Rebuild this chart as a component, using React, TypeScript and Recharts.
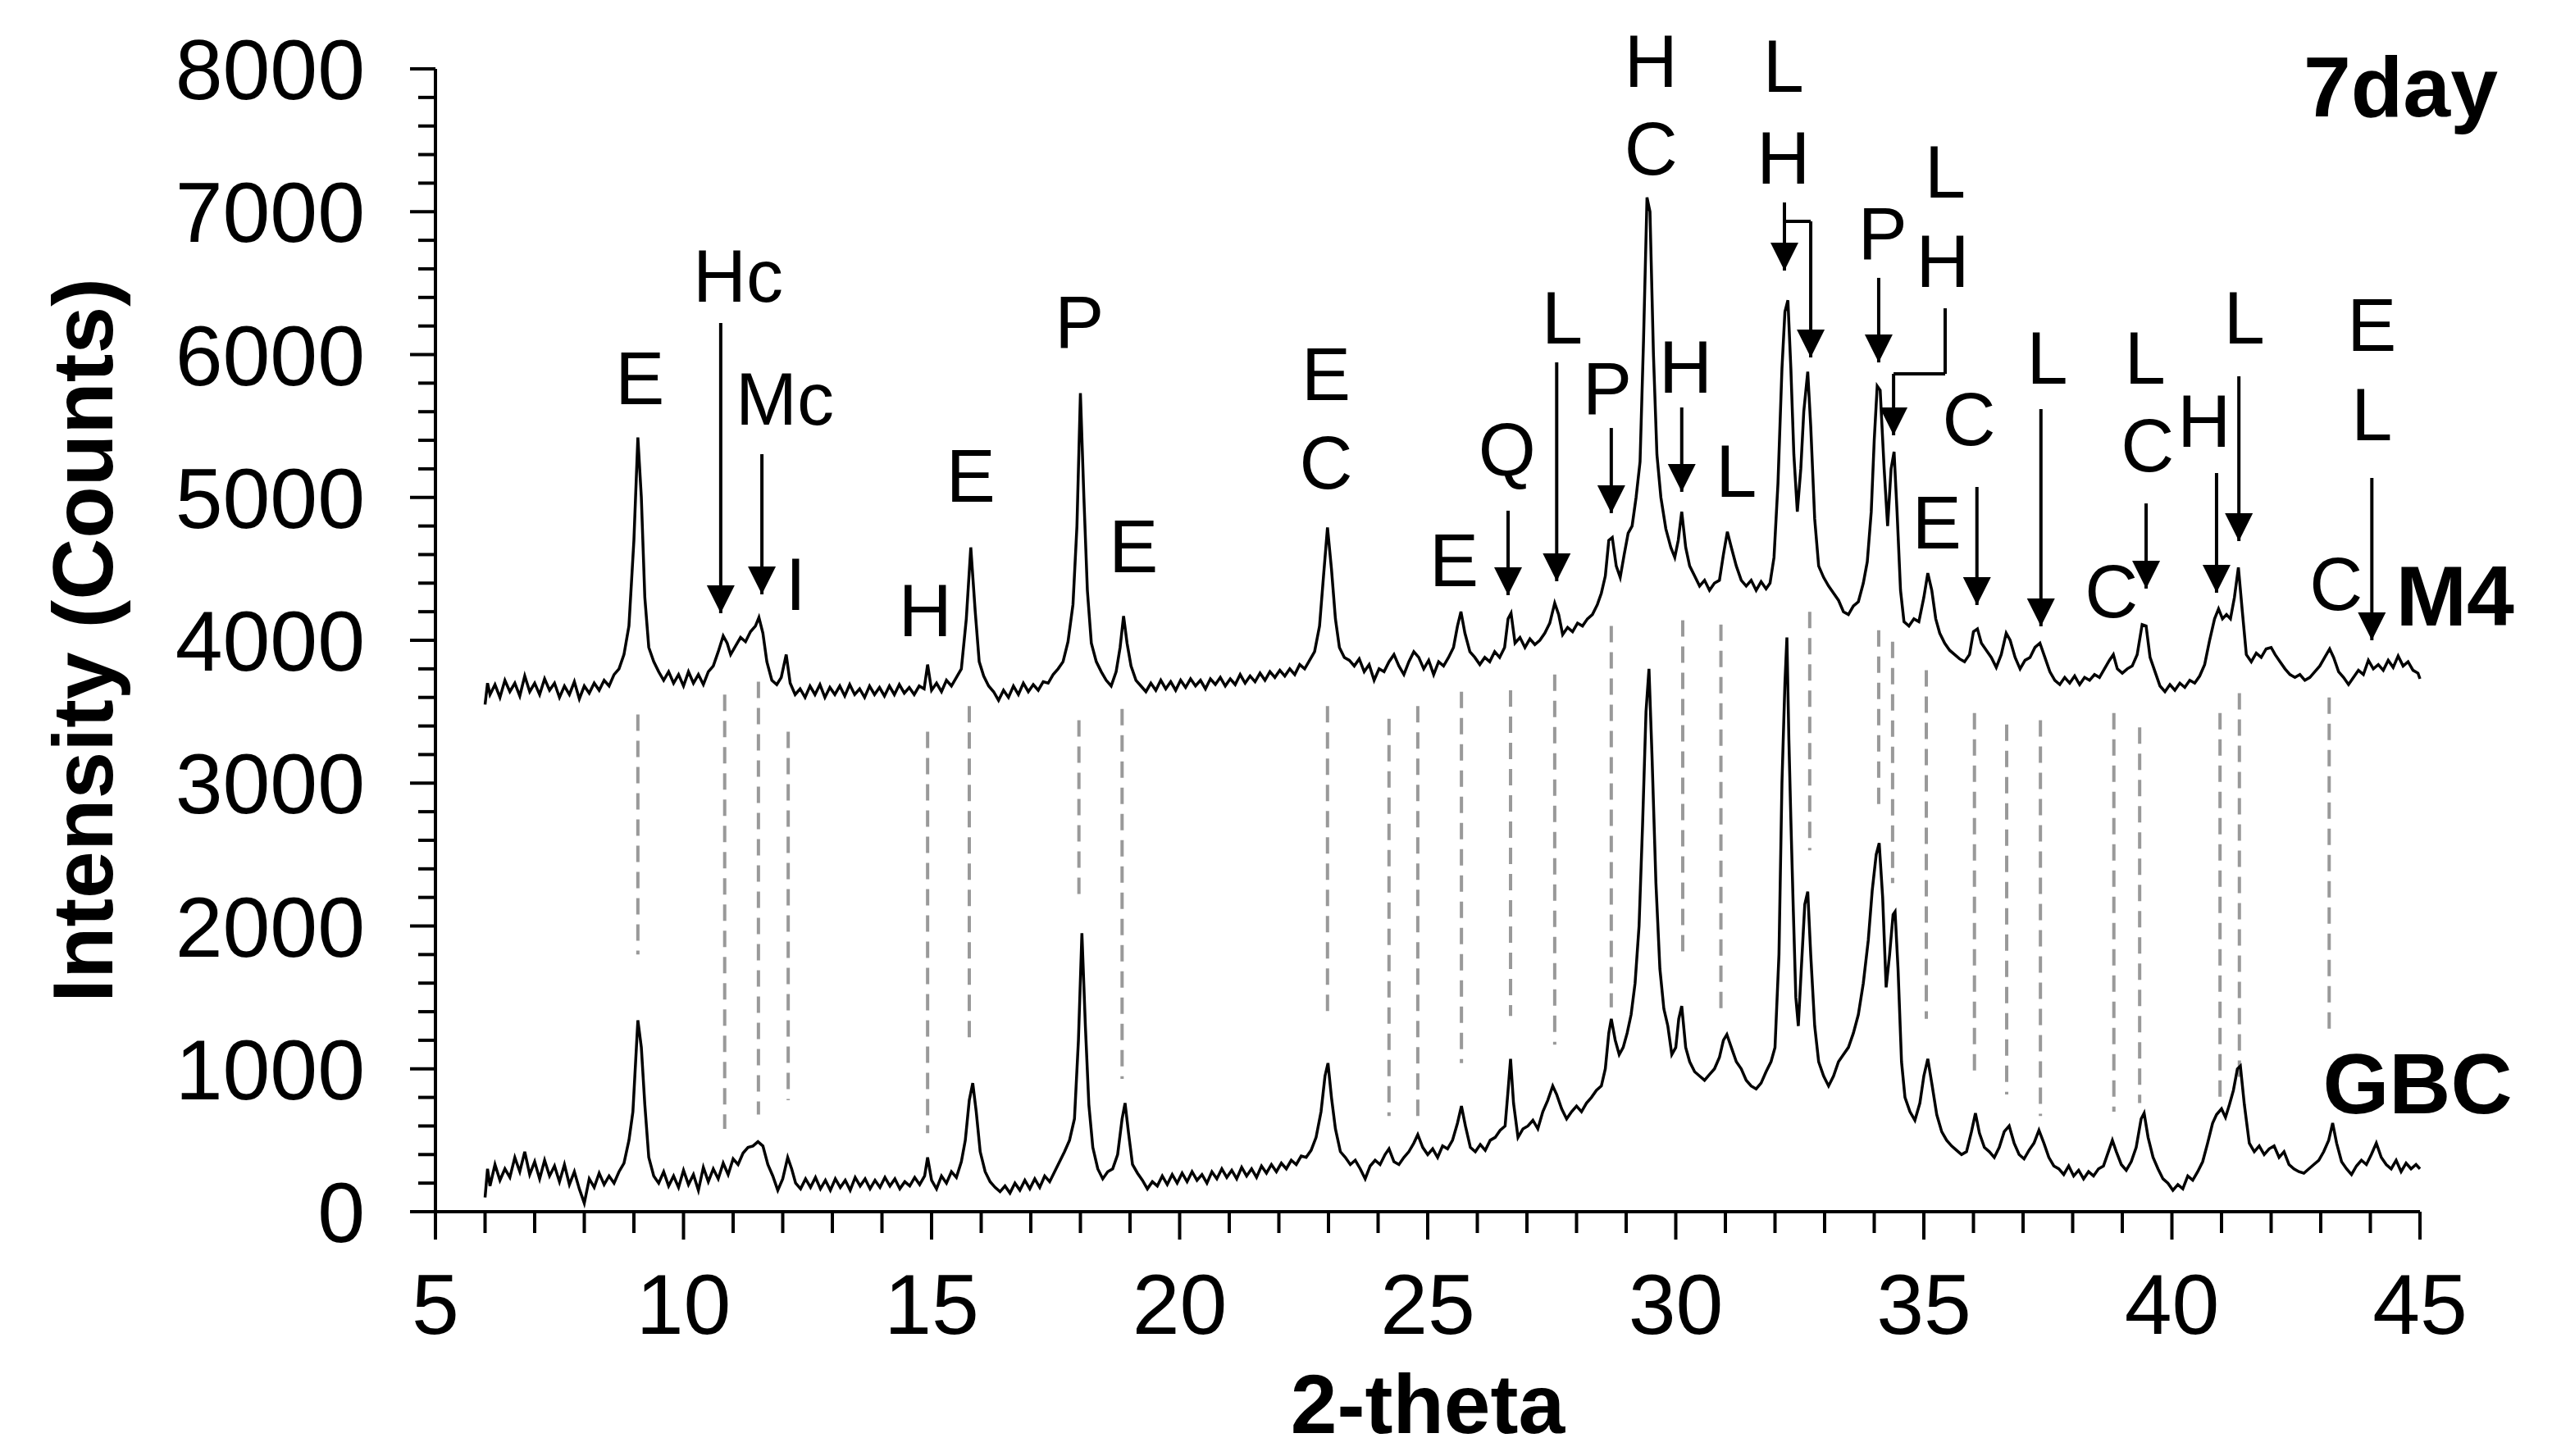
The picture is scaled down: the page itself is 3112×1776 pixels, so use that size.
import React from "react";
import { LineChart, Line, XAxis, YAxis, ReferenceLine, ReferenceDot } from "recharts";

const W = 3112;
const H = 1776;
const FONT = "'Liberation Sans', Arial, sans-serif";

// [2-theta, counts], M4 trace (upper)
const m4Points: [number, number][] = [
  [6.0, 3550], [6.05, 3700], [6.1, 3620], [6.2, 3690], [6.3, 3600], [6.4, 3720], [6.5, 3640], [6.6, 3700],
  [6.7, 3610], [6.8, 3750], [6.9, 3640], [7.0, 3700], [7.1, 3620], [7.2, 3730], [7.3, 3650], [7.4, 3700],
  [7.5, 3600], [7.6, 3680], [7.7, 3620], [7.8, 3710], [7.9, 3590], [8.0, 3680], [8.1, 3630], [8.2, 3700],
  [8.3, 3650], [8.4, 3720], [8.5, 3680], [8.6, 3760], [8.7, 3800], [8.8, 3900], [8.9, 4100], [9.0, 4700],
  [9.08, 5420], [9.15, 5000], [9.22, 4300], [9.3, 3950], [9.4, 3850], [9.5, 3780], [9.6, 3720], [9.7, 3780],
  [9.8, 3700], [9.9, 3760], [10.0, 3680], [10.1, 3780], [10.2, 3700], [10.3, 3760], [10.4, 3690], [10.5, 3780],
  [10.6, 3820], [10.7, 3920], [10.8, 4030], [10.88, 3980], [10.95, 3900], [11.05, 3960], [11.15, 4020],
  [11.25, 3990], [11.35, 4060], [11.45, 4100], [11.52, 4160], [11.6, 4050], [11.68, 3850], [11.78, 3720],
  [11.88, 3690], [11.97, 3740], [12.07, 3900], [12.15, 3700], [12.25, 3620], [12.35, 3660], [12.45, 3600],
  [12.55, 3680], [12.65, 3620], [12.75, 3690], [12.85, 3600], [12.95, 3670], [13.05, 3620], [13.15, 3680],
  [13.25, 3610], [13.35, 3690], [13.45, 3620], [13.55, 3660], [13.65, 3600], [13.75, 3680], [13.85, 3620],
  [13.95, 3670], [14.05, 3610], [14.15, 3680], [14.25, 3620], [14.35, 3690], [14.45, 3630], [14.55, 3670],
  [14.65, 3620], [14.75, 3680], [14.85, 3660], [14.92, 3830], [15.0, 3650], [15.1, 3700], [15.2, 3640],
  [15.3, 3720], [15.4, 3680], [15.5, 3740], [15.6, 3800], [15.7, 4150], [15.79, 4650], [15.88, 4200],
  [15.96, 3850], [16.05, 3750], [16.15, 3680], [16.25, 3640], [16.35, 3580], [16.45, 3650], [16.55, 3600],
  [16.65, 3680], [16.75, 3620], [16.85, 3700], [16.95, 3640], [17.05, 3690], [17.15, 3650], [17.25, 3710],
  [17.35, 3700], [17.45, 3760], [17.55, 3800], [17.65, 3850], [17.75, 3990], [17.85, 4250], [17.93, 4800],
  [18.0, 5730], [18.07, 5000], [18.14, 4350], [18.22, 3980], [18.32, 3850], [18.42, 3780], [18.52, 3720],
  [18.62, 3680], [18.72, 3780], [18.8, 3950], [18.87, 4170], [18.94, 3980], [19.02, 3820], [19.12, 3720],
  [19.22, 3680], [19.32, 3640], [19.42, 3700], [19.52, 3650], [19.62, 3720], [19.72, 3660], [19.82, 3710],
  [19.92, 3650], [20.02, 3720], [20.12, 3670], [20.22, 3730], [20.32, 3680], [20.42, 3720], [20.52, 3660],
  [20.62, 3730], [20.72, 3690], [20.82, 3740], [20.92, 3680], [21.02, 3730], [21.12, 3690], [21.22, 3760],
  [21.32, 3700], [21.42, 3750], [21.52, 3710], [21.62, 3770], [21.72, 3720], [21.82, 3780], [21.92, 3740],
  [22.02, 3790], [22.12, 3750], [22.22, 3800], [22.32, 3760], [22.42, 3830], [22.52, 3800], [22.62, 3860],
  [22.72, 3920], [22.82, 4100], [22.9, 4450], [22.98, 4790], [23.06, 4500], [23.14, 4150], [23.22, 3950],
  [23.32, 3880], [23.42, 3860], [23.52, 3820], [23.62, 3870], [23.72, 3780], [23.82, 3830], [23.92, 3720],
  [24.02, 3800], [24.12, 3780], [24.22, 3850], [24.32, 3900], [24.42, 3820], [24.52, 3760], [24.62, 3850],
  [24.72, 3920], [24.82, 3880], [24.92, 3800], [25.02, 3860], [25.12, 3760], [25.22, 3850], [25.32, 3820],
  [25.42, 3880], [25.52, 3950], [25.6, 4100], [25.67, 4200], [25.75, 4050], [25.85, 3920], [25.95, 3880],
  [26.05, 3830], [26.15, 3880], [26.25, 3850], [26.35, 3920], [26.45, 3880], [26.55, 3950], [26.62, 4150],
  [26.68, 4190], [26.76, 3980], [26.86, 4020], [26.96, 3950], [27.06, 4010], [27.16, 3970], [27.26, 4000],
  [27.36, 4050], [27.46, 4120], [27.56, 4260], [27.64, 4180], [27.72, 4040], [27.82, 4090], [27.92, 4060],
  [28.02, 4120], [28.12, 4100], [28.22, 4150], [28.32, 4180], [28.42, 4250], [28.5, 4330], [28.58, 4450],
  [28.65, 4700], [28.72, 4720], [28.8, 4520], [28.88, 4440], [28.96, 4600], [29.04, 4750], [29.12, 4800],
  [29.2, 5000], [29.28, 5250], [29.35, 6100], [29.42, 7100], [29.48, 7000], [29.55, 6000], [29.62, 5300],
  [29.7, 5000], [29.8, 4780], [29.9, 4650], [29.98, 4580], [30.05, 4700], [30.12, 4900], [30.2, 4650],
  [30.28, 4520], [30.38, 4450], [30.48, 4380], [30.58, 4420], [30.68, 4350], [30.78, 4400], [30.88, 4420],
  [30.96, 4600], [31.04, 4760], [31.12, 4650], [31.22, 4520], [31.32, 4420], [31.42, 4380], [31.52, 4420],
  [31.62, 4350], [31.72, 4410], [31.82, 4360], [31.9, 4400], [31.98, 4580], [32.06, 5100], [32.14, 5900],
  [32.2, 6300], [32.26, 6380], [32.32, 5900], [32.38, 5300], [32.45, 4900], [32.52, 5200], [32.58, 5600],
  [32.66, 5880], [32.72, 5500], [32.8, 4850], [32.88, 4520], [32.98, 4440], [33.08, 4380], [33.18, 4330],
  [33.28, 4280], [33.38, 4200], [33.48, 4180], [33.58, 4240], [33.68, 4270], [33.78, 4400], [33.86, 4550],
  [33.94, 4900], [34.0, 5400], [34.06, 5780], [34.12, 5750], [34.2, 5200], [34.27, 4800], [34.34, 5200],
  [34.4, 5320], [34.46, 4900], [34.53, 4350], [34.6, 4130], [34.7, 4100], [34.8, 4150], [34.9, 4130],
  [35.0, 4300], [35.08, 4470], [35.16, 4350], [35.24, 4150], [35.32, 4050], [35.42, 3980], [35.52, 3930],
  [35.62, 3900], [35.72, 3870], [35.82, 3850], [35.92, 3900], [36.0, 4060], [36.08, 4080], [36.16, 3980],
  [36.26, 3930], [36.36, 3880], [36.46, 3810], [36.56, 3900], [36.66, 4050], [36.74, 4000], [36.84, 3880],
  [36.94, 3800], [37.04, 3860], [37.14, 3880], [37.24, 3950], [37.34, 3980], [37.44, 3880], [37.54, 3780],
  [37.64, 3720], [37.74, 3690], [37.84, 3740], [37.94, 3700], [38.04, 3750], [38.14, 3690], [38.24, 3740],
  [38.34, 3720], [38.44, 3760], [38.54, 3740], [38.64, 3800], [38.74, 3860], [38.82, 3900], [38.9, 3800],
  [39.0, 3770], [39.1, 3800], [39.2, 3820], [39.3, 3900], [39.4, 4110], [39.48, 4100], [39.56, 3880],
  [39.66, 3780], [39.76, 3680], [39.86, 3640], [39.96, 3690], [40.06, 3650], [40.16, 3700], [40.26, 3670],
  [40.36, 3720], [40.46, 3700], [40.56, 3750], [40.66, 3830], [40.76, 4000], [40.86, 4150], [40.94, 4220],
  [41.02, 4150], [41.1, 4180], [41.18, 4150], [41.26, 4300], [41.34, 4510], [41.42, 4200], [41.5, 3900],
  [41.6, 3850], [41.7, 3910], [41.8, 3880], [41.9, 3940], [42.0, 3950], [42.08, 3900], [42.18, 3850],
  [42.28, 3800], [42.38, 3760], [42.48, 3740], [42.58, 3760], [42.68, 3720], [42.78, 3740], [42.88, 3780],
  [42.98, 3820], [43.08, 3880], [43.18, 3940], [43.26, 3880], [43.36, 3780], [43.46, 3740], [43.56, 3690],
  [43.66, 3740], [43.76, 3790], [43.86, 3760], [43.96, 3860], [44.06, 3800], [44.16, 3830], [44.26, 3790],
  [44.36, 3860], [44.46, 3810], [44.56, 3890], [44.66, 3820], [44.76, 3850], [44.86, 3790], [44.96, 3770],
  [45.0, 3730],
];

// [2-theta, counts], GBC trace (lower)
const gbcPoints: [number, number][] = [
  [6.0, 100], [6.05, 300], [6.1, 180], [6.2, 330], [6.3, 220], [6.4, 300], [6.5, 240], [6.6, 380],
  [6.7, 280], [6.8, 420], [6.9, 260], [7.0, 350], [7.1, 230], [7.2, 360], [7.3, 250], [7.4, 320],
  [7.5, 210], [7.6, 330], [7.7, 190], [7.8, 280], [7.9, 160], [8.0, 60], [8.1, 230], [8.2, 170],
  [8.3, 270], [8.4, 190], [8.5, 250], [8.6, 200], [8.7, 280], [8.8, 340], [8.9, 500], [8.98, 700],
  [9.08, 1340], [9.15, 1150], [9.22, 750], [9.3, 380], [9.4, 250], [9.5, 200], [9.6, 280], [9.7, 180],
  [9.8, 250], [9.9, 170], [10.0, 290], [10.1, 190], [10.2, 260], [10.3, 150], [10.4, 310], [10.5, 210],
  [10.6, 300], [10.7, 230], [10.8, 340], [10.9, 260], [11.0, 370], [11.1, 330], [11.2, 410], [11.3, 450],
  [11.4, 460], [11.5, 490], [11.6, 460], [11.7, 330], [11.8, 250], [11.9, 150], [12.0, 230], [12.1, 380],
  [12.18, 300], [12.26, 200], [12.36, 160], [12.46, 230], [12.56, 170], [12.66, 240], [12.76, 160],
  [12.86, 220], [12.96, 150], [13.06, 230], [13.16, 170], [13.26, 220], [13.36, 150], [13.46, 240],
  [13.56, 180], [13.66, 230], [13.76, 160], [13.86, 220], [13.96, 170], [14.06, 240], [14.16, 180],
  [14.26, 230], [14.36, 160], [14.46, 210], [14.56, 180], [14.66, 240], [14.76, 190], [14.86, 250],
  [14.92, 380], [15.0, 220], [15.1, 160], [15.2, 250], [15.3, 200], [15.4, 280], [15.5, 240], [15.6, 350],
  [15.68, 500], [15.76, 780], [15.83, 900], [15.9, 700], [15.98, 420], [16.08, 280], [16.18, 210],
  [16.28, 170], [16.38, 140], [16.48, 180], [16.58, 130], [16.68, 200], [16.78, 150], [16.88, 220],
  [16.98, 160], [17.08, 230], [17.18, 170], [17.28, 250], [17.38, 210], [17.48, 280], [17.58, 350],
  [17.68, 420], [17.78, 500], [17.88, 650], [17.96, 1200], [18.03, 1950], [18.1, 1300], [18.17, 750],
  [18.25, 450], [18.35, 300], [18.45, 230], [18.55, 280], [18.65, 300], [18.75, 400], [18.84, 650],
  [18.9, 760], [18.97, 550], [19.05, 330], [19.15, 270], [19.25, 220], [19.35, 160], [19.45, 210],
  [19.55, 180], [19.65, 250], [19.75, 190], [19.85, 260], [19.95, 200], [20.05, 270], [20.15, 210],
  [20.25, 280], [20.35, 220], [20.45, 260], [20.55, 200], [20.65, 280], [20.75, 230], [20.85, 300],
  [20.95, 240], [21.05, 290], [21.15, 230], [21.25, 310], [21.35, 250], [21.45, 300], [21.55, 240],
  [21.65, 320], [21.75, 270], [21.85, 330], [21.95, 280], [22.05, 340], [22.15, 300], [22.25, 360],
  [22.35, 330], [22.45, 390], [22.55, 380], [22.65, 430], [22.75, 520], [22.85, 700], [22.93, 950],
  [22.99, 1040], [23.06, 800], [23.14, 580], [23.24, 420], [23.34, 380], [23.44, 330], [23.54, 360],
  [23.64, 300], [23.74, 230], [23.84, 320], [23.94, 360], [24.04, 330], [24.14, 400], [24.22, 440],
  [24.32, 350], [24.42, 330], [24.52, 380], [24.62, 420], [24.72, 480], [24.8, 540], [24.9, 450],
  [25.0, 400], [25.1, 440], [25.2, 380], [25.3, 460], [25.4, 440], [25.5, 500], [25.6, 620], [25.68, 740],
  [25.76, 600], [25.86, 450], [25.96, 420], [26.06, 470], [26.16, 430], [26.26, 500], [26.36, 520],
  [26.46, 570], [26.56, 600], [26.62, 850], [26.67, 1070], [26.73, 760], [26.82, 520], [26.92, 580],
  [27.02, 600], [27.12, 640], [27.22, 580], [27.32, 700], [27.42, 780], [27.52, 880], [27.6, 820],
  [27.7, 720], [27.8, 650], [27.9, 700], [28.0, 740], [28.1, 700], [28.2, 760], [28.3, 800], [28.4, 850],
  [28.5, 880], [28.58, 1000], [28.65, 1250], [28.7, 1350], [28.78, 1200], [28.86, 1100], [28.94, 1150],
  [29.02, 1250], [29.1, 1380], [29.18, 1600], [29.26, 2000], [29.33, 2700], [29.4, 3500], [29.46, 3800],
  [29.52, 3200], [29.6, 2300], [29.68, 1700], [29.76, 1420], [29.84, 1300], [29.92, 1100], [30.0, 1150],
  [30.06, 1350], [30.12, 1440], [30.2, 1150], [30.28, 1050], [30.38, 980], [30.48, 950], [30.58, 920],
  [30.68, 960], [30.78, 1000], [30.88, 1080], [30.96, 1200], [31.03, 1240], [31.12, 1150], [31.22, 1050],
  [31.32, 1000], [31.42, 920], [31.52, 880], [31.62, 860], [31.72, 900], [31.82, 980], [31.92, 1050],
  [32.0, 1150], [32.08, 1800], [32.14, 3000], [32.2, 3700], [32.24, 4020], [32.28, 3300], [32.32, 2740],
  [32.37, 2100], [32.42, 1500], [32.47, 1300], [32.53, 1700], [32.6, 2150], [32.66, 2240], [32.72, 1800],
  [32.8, 1300], [32.88, 1050], [32.98, 950], [33.08, 880], [33.18, 950], [33.28, 1050], [33.38, 1100],
  [33.48, 1150], [33.58, 1250], [33.68, 1380], [33.78, 1600], [33.88, 1900], [33.96, 2250], [34.04, 2500],
  [34.1, 2580], [34.17, 2200], [34.24, 1570], [34.31, 1800], [34.38, 2080], [34.42, 2100], [34.48, 1700],
  [34.55, 1050], [34.62, 800], [34.72, 700], [34.82, 640], [34.92, 760], [35.0, 950], [35.08, 1070],
  [35.16, 900], [35.26, 680], [35.36, 560], [35.46, 500], [35.56, 460], [35.66, 430], [35.76, 400],
  [35.86, 420], [35.96, 560], [36.04, 690], [36.12, 550], [36.22, 450], [36.32, 420], [36.42, 380],
  [36.52, 450], [36.62, 560], [36.72, 600], [36.82, 480], [36.92, 400], [37.02, 370], [37.12, 430],
  [37.22, 480], [37.32, 570], [37.42, 480], [37.52, 380], [37.62, 320], [37.72, 300], [37.82, 260],
  [37.92, 320], [38.02, 250], [38.12, 290], [38.22, 230], [38.32, 280], [38.42, 250], [38.52, 300],
  [38.62, 320], [38.72, 420], [38.8, 500], [38.88, 420], [38.98, 330], [39.08, 290], [39.18, 350],
  [39.28, 450], [39.38, 650], [39.44, 690], [39.52, 520], [39.62, 380], [39.72, 300], [39.82, 230],
  [39.92, 200], [40.02, 150], [40.12, 190], [40.22, 160], [40.32, 250], [40.42, 220], [40.52, 280],
  [40.62, 350], [40.72, 480], [40.82, 620], [40.9, 680], [41.0, 720], [41.08, 660], [41.16, 750],
  [41.24, 850], [41.32, 1000], [41.38, 1020], [41.46, 750], [41.56, 480], [41.66, 420], [41.76, 460],
  [41.86, 400], [41.96, 440], [42.06, 460], [42.16, 380], [42.26, 420], [42.36, 330], [42.46, 300],
  [42.56, 280], [42.66, 270], [42.76, 300], [42.86, 330], [42.96, 360], [43.06, 420], [43.16, 500],
  [43.24, 620], [43.32, 480], [43.42, 350], [43.52, 300], [43.62, 260], [43.72, 320], [43.82, 360],
  [43.92, 330], [44.02, 400], [44.12, 480], [44.22, 380], [44.32, 330], [44.42, 300], [44.52, 360],
  [44.62, 280], [44.72, 340], [44.82, 300], [44.92, 330], [45.0, 300],
];

const xTicks = [5, 6, 7, 8, 9, 10, 11, 12, 13, 14, 15, 16, 17, 18, 19, 20, 21, 22, 23, 24, 25,
  26, 27, 28, 29, 30, 31, 32, 33, 34, 35, 36, 37, 38, 39, 40, 41, 42, 43, 44, 45];
const yTicks = [0, 200, 400, 600, 800, 1000, 1200, 1400, 1600, 1800, 2000, 2200, 2400, 2600, 2800,
  3000, 3200, 3400, 3600, 3800, 4000, 4200, 4400, 4600, 4800, 5000, 5200, 5400, 5600, 5800, 6000,
  6200, 6400, 6600, 6800, 7000, 7200, 7400, 7600, 7800, 8000];

// dashed guides linking matching peaks: [2-theta, top counts, bottom counts]
const guides: [number, number, number][] = [
  [9.08, 3480, 1800], [10.83, 3620, 580], [11.51, 3710, 680], [12.11, 3360, 780], [14.92, 3360, 550],
  [15.76, 3540, 1180], [17.97, 3440, 2190], [18.84, 3520, 930], [22.98, 3540, 1400], [24.22, 3450, 670],
  [24.8, 3540, 640], [25.68, 3640, 1040], [26.67, 3650, 1370], [27.56, 3760, 1170], [28.7, 4100, 1430],
  [30.14, 4140, 1780], [30.91, 4110, 1400], [32.7, 4200, 2530], [34.09, 4070, 2800], [34.37, 3990, 2300],
  [35.05, 3790, 1350], [36.02, 3490, 960], [36.67, 3410, 820], [37.35, 3440, 670], [38.83, 3490, 700],
  [39.35, 3390, 760], [40.97, 3490, 790], [41.36, 3630, 910], [43.17, 3600, 1230],
];

// phase letters: [text, 2-theta, baseline counts]
const phaseLabels: [string, number, number][] = [
  ["E", 9.12, 5650], ["Hc", 11.1, 6370], ["Mc", 12.04, 5510], ["I", 12.26, 4210], ["H", 14.87, 4030],
  ["E", 15.79, 4970], ["P", 17.98, 6050], ["E", 19.07, 4476], ["E", 22.95, 5681], ["C", 22.95, 5060],
  ["E", 25.53, 4380], ["Q", 26.6, 5153], ["L", 27.71, 6077], ["P", 28.62, 5584], ["H", 29.5, 7873],
  ["C", 29.5, 7260], ["H", 30.2, 5733], ["L", 31.22, 5004], ["L", 32.17, 7839], ["H", 32.17, 7197],
  ["P", 34.17, 6669], ["L", 35.43, 7099], ["H", 35.38, 6473], ["E", 35.26, 4643], ["C", 35.91, 5366],
  ["L", 37.49, 5796], ["C", 38.78, 4160], ["L", 39.46, 5796], ["C", 39.51, 5180], ["H", 40.65, 5354],
  ["L", 41.46, 6077], ["C", 43.31, 4210], ["E", 44.03, 6026], ["L", 44.03, 5400],
];

// bold sample labels: [text, right edge 2-theta, baseline counts]
const sampleLabels: [string, number, number][] = [
  ["7day", 46.57, 7667], ["M4", 46.9, 4103], ["GBC", 46.86, 689],
];

// arrows: [2-theta, shaft top counts, tip counts]
const arrows: [number, number, number][] = [
  [10.75, 6221, 4189], [11.58, 5303, 4321], [26.62, 4907, 4316], [27.6, 5946, 4413], [28.7, 5486, 4890],
  [30.12, 5630, 5039], [32.19, 7065, 6588], [32.72, 6933, 5980], [34.09, 6537, 5945], [34.39, 5865, 5435],
  [36.07, 5073, 4247], [37.36, 5618, 4098], [39.48, 4958, 4362], [40.9, 5171, 4333], [41.35, 5848, 4694],
  [44.03, 5136, 4000],
];

// elbow connectors: [[2-theta, counts], [2-theta, counts]]
const elbows: [[number, number], [number, number]][] = [
  [[32.19, 6933], [32.72, 6933]],
  [[35.43, 6324], [35.43, 5865]],
  [[35.43, 5865], [34.39, 5865]],
];

const m4Data = m4Points.map(([t, c]) => ({ t, c }));
const gbcData = gbcPoints.map(([t, c]) => ({ t, c }));

const XTick = (props: any) => {
  const { x, y, payload } = props;
  const v = payload.value;
  const major = v % 5 === 0;
  return (
    <g>
      <line x1={x} x2={x} y1={y} y2={y + (major ? 34 : 26)} stroke="#000" strokeWidth={4} />
      {major && (
        <text x={x} y={y + 149} textAnchor="middle" fontSize={104} fontFamily={FONT} fill="#000">
          {v}
        </text>
      )}
    </g>
  );
};

const YTick = (props: any) => {
  const { x, y, payload } = props;
  const v = payload.value;
  const major = v % 1000 === 0;
  return (
    <g>
      <line x1={x - (major ? 31 : 21)} x2={x} y1={y} y2={y} stroke="#000" strokeWidth={4} />
      {major && (
        <text x={x - 86} y={y + 37} textAnchor="end" fontSize={104} fontFamily={FONT} fill="#000">
          {v}
        </text>
      )}
    </g>
  );
};

export default function App() {
  return (
    <div style={{ position: "absolute", left: 0, top: 0, width: W, height: H, background: "#fff" }}>
      <LineChart
        width={W}
        height={H}
        margin={{ top: 84, right: 161, bottom: 0, left: 0 }}
        style={{ fontFamily: FONT }}
      >
        <XAxis
          type="number"
          dataKey="t"
          domain={[5, 45]}
          ticks={xTicks}
          interval={0}
          tick={<XTick />}
          tickLine={false}
          tickSize={0}
          tickMargin={0}
          height={298}
          axisLine={{ stroke: "#000", strokeWidth: 4 }}
          label={{
            value: "2-theta",
            position: "insideBottom",
            offset: 28,
            style: { fontSize: 102, fontWeight: "bold", fill: "#000", fontFamily: FONT },
          }}
        />
        <YAxis
          type="number"
          domain={[0, 8000]}
          ticks={yTicks}
          interval={0}
          width={531}
          tick={<YTick />}
          tickLine={false}
          tickSize={0}
          tickMargin={0}
          axisLine={{ stroke: "#000", strokeWidth: 4 }}
          label={{
            value: "Intensity (Counts)",
            angle: -90,
            position: "insideLeft",
            offset: 100,
            style: { fontSize: 104, fontWeight: "bold", fill: "#000", fontFamily: FONT, textAnchor: "middle" },
          }}
        />

        {guides.map(([t, top, bottom], i) => (
          <ReferenceLine
            key={`g${i}`}
            segment={[{ x: t, y: top }, { x: t, y: bottom }]}
            stroke="#999"
            strokeWidth={4}
            strokeDasharray="20 12"
          />
        ))}

        <Line data={m4Data} dataKey="c" type="linear" stroke="#000" strokeWidth={3.5} dot={false} isAnimationActive={false} />
        <Line data={gbcData} dataKey="c" type="linear" stroke="#000" strokeWidth={3.5} dot={false} isAnimationActive={false} />

        {arrows.map(([t, top, tip], i) => (
          <ReferenceLine
            key={`a${i}`}
            segment={[{ x: t, y: top }, { x: t, y: tip }]}
            stroke="#000"
            strokeWidth={4}
          />
        ))}
        {elbows.map(([p, q], i) => (
          <ReferenceLine
            key={`e${i}`}
            segment={[{ x: p[0], y: p[1] }, { x: q[0], y: q[1] }]}
            stroke="#000"
            strokeWidth={4}
          />
        ))}
        {arrows.map(([t, , tip], i) => (
          <ReferenceDot
            key={`h${i}`}
            x={t}
            y={tip}
            r={0}
            shape={(p: any) => (
              <polygon
                points={`${p.cx},${p.cy} ${p.cx - 17},${p.cy - 34} ${p.cx + 17},${p.cy - 34}`}
                fill="#000"
              />
            )}
          />
        ))}

        {phaseLabels.map(([s, t, c], i) => (
          <ReferenceDot
            key={`l${i}`}
            x={t}
            y={c}
            r={0}
            ifOverflow="visible"
            shape={(p: any) => (
              <text x={p.cx} y={p.cy} textAnchor="middle" fontSize={90} fontFamily={FONT} fill="#000">
                {s}
              </text>
            )}
          />
        ))}
        {sampleLabels.map(([s, t, c], i) => (
          <ReferenceDot
            key={`s${i}`}
            x={t}
            y={c}
            r={0}
            ifOverflow="visible"
            shape={(p: any) => (
              <text x={p.cx} y={p.cy} textAnchor="end" fontSize={104} fontWeight="bold" fontFamily={FONT} fill="#000">
                {s}
              </text>
            )}
          />
        ))}
      </LineChart>
    </div>
  );
}
